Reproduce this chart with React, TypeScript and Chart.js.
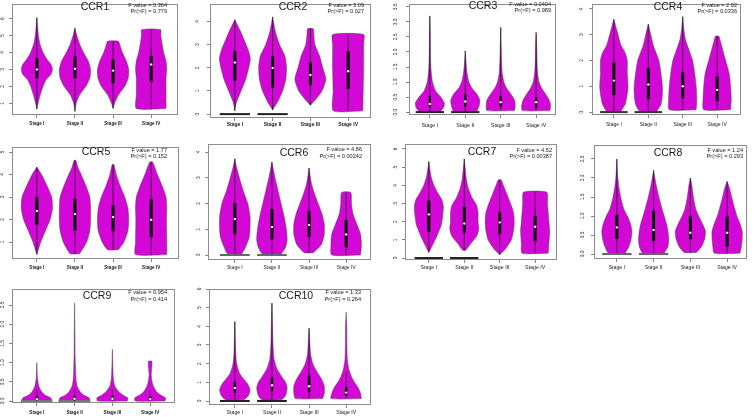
import React, { useEffect, useRef } from "react";
import { Chart, registerables } from "chart.js";
Chart.register(...registerables);

// ---------- DATA ----------
const STAGES = ["Stage I", "Stage II", "Stage III", "Stage IV"];

// Violin profiles: [expression value, relative half-width]
const CCR1_STATS = ["F value = 0.364", "Pr(>F) = 0.779"];
const CCR1_YTICKS = [1, 2, 3, 4, 5, 6];
const CCR1_Q1 = [2.49, 2.49, 2.18, 2.28];
const CCR1_MED = [3.0, 3.04, 2.93, 3.29];
const CCR1_Q3 = [3.67, 3.77, 3.58, 3.8];
const CCR1_LO = [0.66, 0.52, 0.69, 0.69];
const CCR1_HI = [6.06, 5.43, 4.66, 5.35];
const CCR1_ZERO = [0, 0, 0, 0];
const CCR1_VIOLIN = [
  [[0.66, 0], [1.0, 0.08], [1.5, 0.22], [2.0, 0.4], [2.4, 0.6], [2.7, 0.9], [3.0, 1.0], [3.3, 0.9], [3.6, 0.65], [4.0, 0.4], [4.5, 0.2], [5.0, 0.1], [5.5, 0.05], [6.06, 0]],
  [[0.52, 0], [1.0, 0.08], [1.5, 0.3], [2.0, 0.7], [2.5, 0.95], [3.0, 1.0], [3.5, 0.85], [4.0, 0.55], [4.5, 0.3], [5.0, 0.12], [5.43, 0]],
  [[0.69, 0], [1.0, 0.1], [1.5, 0.35], [2.0, 0.75], [2.5, 0.97], [3.0, 1.0], [3.5, 0.85], [4.0, 0.6], [4.4, 0.45], [4.66, 0.35]],
  [[0.69, 0.95], [1.5, 0.95], [2.5, 0.95], [3.0, 1.0], [3.5, 0.95], [4.0, 0.8], [4.5, 0.7], [5.0, 0.62], [5.35, 0.6]],
];

const CCR2_STATS = ["F value = 3.09", "Pr(>F) = 0.027"];
const CCR2_YTICKS = [0, 1, 2, 3, 4];
const CCR2_Q1 = [1.44, 1.13, 1.25, 1.09];
const CCR2_MED = [2.23, 1.99, 1.69, 1.85];
const CCR2_Q3 = [2.72, 2.51, 2.23, 2.72];
const CCR2_LO = [0.14, 0.18, 0.38, 0.14];
const CCR2_HI = [4.08, 4.2, 3.69, 3.44];
const CCR2_ZERO = [1, 1, 0, 0];
const CCR2_VIOLIN = [
  [[0.14, 0], [0.5, 0.1], [1.0, 0.4], [1.5, 0.7], [2.0, 0.9], [2.4, 1.0], [2.8, 0.85], [3.2, 0.6], [3.6, 0.35], [4.08, 0]],
  [[0.18, 0], [0.5, 0.3], [1.0, 0.65], [1.5, 0.85], [2.0, 0.9], [2.5, 0.8], [3.0, 0.45], [3.5, 0.2], [3.9, 0.08], [4.2, 0]],
  [[0.38, 0], [0.6, 0.3], [1.0, 0.75], [1.5, 1.0], [2.0, 0.8], [2.5, 0.6], [3.0, 0.3], [3.4, 0.22], [3.69, 0.18]],
  [[0.14, 0.95], [1.0, 0.97], [2.0, 1.0], [3.0, 1.0], [3.44, 1.0]],
];

const CCR3_STATS = ["F value = 0.0404", "Pr(>F) = 0.989"];
const CCR3_YTICKS = [0, 0.5, 1, 1.5, 2, 2.5, 3, 3.5];
const CCR3_Q1 = [0.16, 0.18, 0.18, 0.14];
const CCR3_MED = [0.27, 0.35, 0.33, 0.33];
const CCR3_Q3 = [0.54, 0.6, 0.54, 0.49];
const CCR3_LO = [0.03, 0.03, 0.05, 0.05];
const CCR3_HI = [3.2, 2.03, 2.82, 2.65];
const CCR3_ZERO = [1, 1, 0, 0];
const CCR3_VIOLIN = [
  [[0.03, 0.75], [0.15, 0.95], [0.3, 1.0], [0.5, 0.75], [0.7, 0.4], [1.0, 0.18], [1.3, 0.1], [1.6, 0.06], [2.0, 0.04], [2.6, 0.03], [3.2, 0]],
  [[0.03, 0.8], [0.2, 0.95], [0.4, 1.0], [0.6, 0.8], [0.8, 0.45], [1.0, 0.25], [1.3, 0.12], [1.6, 0.06], [2.03, 0]],
  [[0.05, 0.95], [0.2, 1.0], [0.4, 0.95], [0.6, 0.7], [0.8, 0.4], [1.0, 0.22], [1.3, 0.1], [1.8, 0.05], [2.2, 0.03], [2.82, 0]],
  [[0.05, 0.95], [0.2, 1.0], [0.4, 0.9], [0.6, 0.65], [0.8, 0.38], [1.0, 0.2], [1.3, 0.1], [1.7, 0.06], [2.2, 0.04], [2.65, 0]],
];

const CCR4_STATS = ["F value = 2.92", "Pr(>F) = 0.0336"];
const CCR4_YTICKS = [0, 1, 2, 3, 4];
const CCR4_Q1 = [0.66, 0.5, 0.54, 0.42];
const CCR4_MED = [1.22, 1.07, 1.0, 0.86];
const CCR4_Q3 = [1.92, 1.7, 1.54, 1.38];
const CCR4_LO = [0.03, 0.03, 0.09, 0.09];
const CCR4_HI = [3.6, 3.41, 3.7, 2.94];
const CCR4_ZERO = [1, 1, 0, 0];
const CCR4_VIOLIN = [
  [[0.03, 0.5], [0.3, 0.8], [0.7, 0.95], [1.0, 1.0], [1.5, 0.95], [2.0, 0.95], [2.3, 0.8], [2.6, 0.5], [3.0, 0.3], [3.3, 0.15], [3.6, 0]],
  [[0.03, 0.6], [0.3, 0.9], [0.7, 1.0], [1.0, 1.0], [1.5, 0.9], [2.0, 0.75], [2.3, 0.55], [2.6, 0.35], [3.0, 0.18], [3.41, 0]],
  [[0.09, 0.95], [0.5, 1.0], [1.0, 0.95], [1.5, 0.85], [2.0, 0.7], [2.4, 0.45], [2.8, 0.2], [3.2, 0.08], [3.7, 0]],
  [[0.09, 0.95], [0.5, 1.0], [1.0, 0.95], [1.5, 0.85], [2.0, 0.6], [2.5, 0.35], [2.8, 0.2], [2.94, 0.12]],
];

const CCR5_STATS = ["F value = 1.77", "Pr(>F) = 0.152"];
const CCR5_YTICKS = [1, 2, 3, 4, 5];
const CCR5_Q1 = [1.77, 1.52, 1.47, 1.22];
const CCR5_MED = [2.38, 2.24, 2.11, 1.99];
const CCR5_Q3 = [3.0, 2.93, 2.63, 2.9];
const CCR5_LO = [0.44, 0.48, 0.66, 0.44];
const CCR5_HI = [4.33, 4.63, 4.44, 4.55];
const CCR5_ZERO = [0, 0, 0, 0];
const CCR5_VIOLIN = [
  [[0.44, 0], [1.0, 0.25], [1.5, 0.55], [2.0, 0.85], [2.5, 1.0], [3.0, 0.95], [3.5, 0.65], [4.0, 0.3], [4.33, 0]],
  [[0.48, 0.3], [1.0, 0.75], [1.5, 0.95], [2.0, 1.0], [2.5, 1.0], [3.0, 0.95], [3.5, 0.7], [4.0, 0.4], [4.3, 0.2], [4.63, 0.05]],
  [[0.66, 0.35], [1.0, 0.7], [1.5, 0.95], [2.0, 1.0], [2.5, 0.95], [3.0, 0.75], [3.5, 0.45], [4.0, 0.2], [4.44, 0.05]],
  [[0.44, 1.0], [1.0, 1.0], [2.0, 0.98], [2.5, 1.0], [3.0, 0.95], [3.5, 0.7], [4.0, 0.4], [4.55, 0.1]],
];

const CCR6_STATS = ["F value = 4.86", "Pr(>F) = 0.00242"];
const CCR6_YTICKS = [0, 1, 2, 3, 4];
const CCR6_Q1 = [0.81, 0.61, 0.71, 0.3];
const CCR6_MED = [1.4, 1.09, 1.17, 0.8];
const CCR6_Q3 = [2.01, 1.79, 1.71, 1.36];
const CCR6_LO = [0.03, 0.03, 0.09, 0.0];
const CCR6_HI = [3.74, 3.61, 3.38, 2.43];
const CCR6_ZERO = [1, 1, 0, 0];
const CCR6_VIOLIN = [
  [[0.03, 0.45], [0.3, 0.7], [0.7, 0.95], [1.0, 1.0], [1.5, 1.0], [2.0, 0.85], [2.5, 0.55], [3.0, 0.3], [3.4, 0.12], [3.74, 0]],
  [[0.03, 0.6], [0.3, 0.9], [0.6, 1.0], [1.0, 0.95], [1.5, 0.8], [2.0, 0.6], [2.5, 0.4], [3.0, 0.2], [3.3, 0.1], [3.61, 0]],
  [[0.09, 0.3], [0.4, 0.8], [0.8, 1.0], [1.2, 1.0], [1.6, 0.85], [2.0, 0.6], [2.4, 0.35], [2.8, 0.15], [3.38, 0]],
  [[0.0, 0.95], [0.4, 1.0], [0.8, 0.95], [1.2, 0.7], [1.6, 0.45], [2.0, 0.35], [2.43, 0.3]],
];

const CCR7_STATS = ["F value = 4.52", "Pr(>F) = 0.00387"];
const CCR7_YTICKS = [0, 1, 2, 3, 4, 5, 6];
const CCR7_Q1 = [1.44, 1.4, 1.31, 0.92];
const CCR7_MED = [2.4, 1.9, 1.96, 1.72];
const CCR7_Q3 = [3.16, 2.82, 2.51, 2.32];
const CCR7_LO = [0.3, 0.42, 0.18, 0.26];
const CCR7_HI = [5.31, 5.46, 4.3, 3.62];
const CCR7_ZERO = [1, 1, 0, 0];
const CCR7_VIOLIN = [
  [[0.3, 0], [0.7, 0.25], [1.2, 0.55], [1.8, 0.85], [2.3, 0.95], [2.8, 1.0], [3.2, 0.9], [3.6, 0.6], [4.0, 0.35], [4.5, 0.15], [5.31, 0]],
  [[0.42, 0.1], [0.8, 0.45], [1.2, 0.85], [1.6, 1.0], [2.0, 0.95], [2.5, 0.95], [2.9, 0.85], [3.3, 0.55], [3.8, 0.3], [4.3, 0.15], [5.46, 0]],
  [[0.18, 0], [0.5, 0.4], [1.0, 0.8], [1.5, 0.95], [2.0, 1.0], [2.5, 0.95], [3.0, 0.75], [3.5, 0.5], [4.0, 0.25], [4.3, 0.1]],
  [[0.26, 0.9], [0.8, 0.95], [1.5, 1.0], [2.0, 0.95], [2.5, 0.9], [3.0, 0.85], [3.62, 0.8]],
];

const CCR8_STATS = ["F value = 1.24", "Pr(>F) = 0.293"];
const CCR8_YTICKS = [0, 0.5, 1, 1.5, 2, 2.5];
const CCR8_Q1 = [0.4, 0.34, 0.39, 0.19];
const CCR8_MED = [0.7, 0.63, 0.56, 0.56];
const CCR8_Q3 = [1.03, 1.14, 0.99, 0.99];
const CCR8_LO = [0.02, 0.02, 0.04, 0.02];
const CCR8_HI = [2.5, 2.2, 2.0, 1.91];
const CCR8_ZERO = [1, 1, 0, 0];
const CCR8_VIOLIN = [
  [[0.02, 0.55], [0.2, 0.8], [0.4, 0.95], [0.6, 1.0], [0.8, 0.9], [1.0, 0.7], [1.2, 0.45], [1.5, 0.25], [1.8, 0.12], [2.1, 0.05], [2.5, 0]],
  [[0.02, 0.7], [0.2, 0.95], [0.4, 1.0], [0.6, 0.95], [0.8, 0.85], [1.0, 0.7], [1.2, 0.55], [1.5, 0.35], [1.8, 0.18], [2.2, 0]],
  [[0.04, 0.4], [0.2, 0.75], [0.4, 0.95], [0.6, 1.0], [0.8, 0.8], [1.0, 0.55], [1.2, 0.35], [1.5, 0.2], [1.8, 0.1], [2.0, 0]],
  [[0.02, 0.85], [0.2, 0.95], [0.4, 1.0], [0.6, 1.0], [0.8, 0.85], [1.0, 0.65], [1.2, 0.5], [1.5, 0.3], [1.75, 0.15], [1.91, 0]],
];

const CCR9_STATS = ["F value = 0.954", "Pr(>F) = 0.414"];
const CCR9_YTICKS = [0, 0.5, 1, 1.5, 2, 2.5];
const CCR9_Q1 = [0.02, 0.02, 0.03, 0.03];
const CCR9_MED = [0.05, 0.06, 0.06, 0.05];
const CCR9_Q3 = [0.12, 0.12, 0.14, 0.12];
const CCR9_LO = [0, 0, 0, 0];
const CCR9_HI = [0.3, 0.3, 0.32, 0.28];
const CCR9_ZERO = [1, 1, 0, 0];
const CCR9_VIOLIN = [
  [[-0.03, 1.0], [0.08, 0.9], [0.15, 0.55], [0.25, 0.3], [0.4, 0.12], [0.6, 0.04], [1.0, 0]],
  [[-0.03, 1.0], [0.08, 0.95], [0.15, 0.6], [0.25, 0.35], [0.4, 0.15], [0.6, 0.08], [0.9, 0.05], [1.2, 0.03], [1.8, 0.02], [2.55, 0]],
  [[0.0, 0.95], [0.08, 1.0], [0.15, 0.7], [0.25, 0.4], [0.4, 0.15], [0.6, 0.06], [0.9, 0.03], [1.35, 0]],
  [[0.0, 0.95], [0.08, 1.0], [0.15, 0.7], [0.25, 0.4], [0.4, 0.2], [0.55, 0.1], [0.7, 0.07], [0.85, 0.1], [1.0, 0.12], [1.04, 0.1]],
];

const CCR10_STATS = ["F value = 1.33", "Pr(>F) = 0.264"];
const CCR10_YTICKS = [0, 1, 2, 3, 4, 5, 6];
const CCR10_Q1 = [0.45, 0.52, 0.48, 0.3];
const CCR10_MED = [0.7, 0.84, 0.79, 0.45];
const CCR10_Q3 = [1.02, 1.29, 1.35, 0.75];
const CCR10_LO = [0.07, 0.07, 0.13, 0.13];
const CCR10_HI = [4.25, 5.24, 3.9, 1.56];
const CCR10_ZERO = [1, 1, 0, 0];
const CCR10_VIOLIN = [
  [[0.07, 0.6], [0.3, 0.9], [0.6, 1.0], [0.9, 0.85], [1.2, 0.55], [1.5, 0.3], [2.0, 0.12], [2.5, 0.06], [3.0, 0.04], [4.25, 0]],
  [[0.07, 0.65], [0.3, 0.9], [0.7, 1.0], [1.0, 0.9], [1.3, 0.65], [1.7, 0.35], [2.2, 0.15], [3.0, 0.07], [4.0, 0.04], [5.24, 0]],
  [[0.13, 0.9], [0.4, 1.0], [0.8, 1.0], [1.2, 0.8], [1.6, 0.5], [2.0, 0.25], [2.5, 0.1], [3.0, 0.06], [3.9, 0]],
  [[0.13, 1.0], [0.4, 0.95], [0.7, 0.8], [1.0, 0.55], [1.3, 0.35], [1.7, 0.18], [2.2, 0.08], [3.0, 0.05], [4.0, 0.04], [4.76, 0]],
];

const GENES = [
  { name: "CCR1", stats: CCR1_STATS, yticks: CCR1_YTICKS, q1: CCR1_Q1, med: CCR1_MED, q3: CCR1_Q3, lo: CCR1_LO, hi: CCR1_HI, zero: CCR1_ZERO, violin: CCR1_VIOLIN },
  { name: "CCR2", stats: CCR2_STATS, yticks: CCR2_YTICKS, q1: CCR2_Q1, med: CCR2_MED, q3: CCR2_Q3, lo: CCR2_LO, hi: CCR2_HI, zero: CCR2_ZERO, violin: CCR2_VIOLIN },
  { name: "CCR3", stats: CCR3_STATS, yticks: CCR3_YTICKS, q1: CCR3_Q1, med: CCR3_MED, q3: CCR3_Q3, lo: CCR3_LO, hi: CCR3_HI, zero: CCR3_ZERO, violin: CCR3_VIOLIN },
  { name: "CCR4", stats: CCR4_STATS, yticks: CCR4_YTICKS, q1: CCR4_Q1, med: CCR4_MED, q3: CCR4_Q3, lo: CCR4_LO, hi: CCR4_HI, zero: CCR4_ZERO, violin: CCR4_VIOLIN },
  { name: "CCR5", stats: CCR5_STATS, yticks: CCR5_YTICKS, q1: CCR5_Q1, med: CCR5_MED, q3: CCR5_Q3, lo: CCR5_LO, hi: CCR5_HI, zero: CCR5_ZERO, violin: CCR5_VIOLIN },
  { name: "CCR6", stats: CCR6_STATS, yticks: CCR6_YTICKS, q1: CCR6_Q1, med: CCR6_MED, q3: CCR6_Q3, lo: CCR6_LO, hi: CCR6_HI, zero: CCR6_ZERO, violin: CCR6_VIOLIN },
  { name: "CCR7", stats: CCR7_STATS, yticks: CCR7_YTICKS, q1: CCR7_Q1, med: CCR7_MED, q3: CCR7_Q3, lo: CCR7_LO, hi: CCR7_HI, zero: CCR7_ZERO, violin: CCR7_VIOLIN },
  { name: "CCR8", stats: CCR8_STATS, yticks: CCR8_YTICKS, q1: CCR8_Q1, med: CCR8_MED, q3: CCR8_Q3, lo: CCR8_LO, hi: CCR8_HI, zero: CCR8_ZERO, violin: CCR8_VIOLIN },
  { name: "CCR9", stats: CCR9_STATS, yticks: CCR9_YTICKS, q1: CCR9_Q1, med: CCR9_MED, q3: CCR9_Q3, lo: CCR9_LO, hi: CCR9_HI, zero: CCR9_ZERO, violin: CCR9_VIOLIN },
  { name: "CCR10", stats: CCR10_STATS, yticks: CCR10_YTICKS, q1: CCR10_Q1, med: CCR10_MED, q3: CCR10_Q3, lo: CCR10_LO, hi: CCR10_HI, zero: CCR10_ZERO, violin: CCR10_VIOLIN },
];

// ---------- LAYOUT (page pixels) ----------
const LAYOUT = [
  { L: 12, R: 179, T: 1, B: 115, c1: 37, c4: 152, ta: [1, 103], tb: [6, 16], labelY: 124, xfs: 4.6, bold: true, yOff: 9, tx: 95, ty: 7, sR: 167, sy: [5, 11], boxW: 3, dec: 0, zc: "#222" },
  { L: 210, R: 372, T: 1, B: 118, c1: 235, c4: 349, ta: [0, 114], tb: [4, 19], labelY: 124, xfs: 5.0, bold: true, yOff: 12, tx: 293, ty: 7, sR: 364, sy: [5, 11], boxW: 3, dec: 0, zc: "#222" },
  { L: 409, R: 557, T: 1, B: 115, c1: 430, c4: 537, ta: [0, 112], tb: [3.5, 4], labelY: 125, xfs: 5.3, bold: false, yOff: 13, tx: 483, ty: 6, sR: 551, sy: [4, 10], boxW: 2.2, dec: 1, zc: "#222" },
  { L: 592, R: 742, T: 1, B: 115, c1: 614, c4: 718, ta: [0, 112], tb: [4, 6], labelY: 124, xfs: 5.0, bold: false, yOff: 10, tx: 668, ty: 7, sR: 737, sy: [5, 11], boxW: 3, dec: 0, zc: "#333" },
  { L: 12, R: 180, T: 147, B: 259, c1: 37, c4: 152, ta: [1, 242], tb: [5, 152], labelY: 268, xfs: 4.6, bold: true, yOff: 9, tx: 96, ty: 152, sR: 167, sy: [150, 156], boxW: 3, dec: 0, zc: "#222" },
  { L: 208, R: 372, T: 144, B: 260, c1: 235, c4: 347, ta: [0, 255], tb: [4, 152], labelY: 267, xfs: 4.9, bold: false, yOff: 9, tx: 294, ty: 153, sR: 362, sy: [149, 156], boxW: 3, dec: 0, zc: "#666" },
  { L: 405, R: 558, T: 144, B: 260, c1: 429, c4: 536, ta: [0, 258], tb: [6, 149], labelY: 267, xfs: 5.3, bold: false, yOff: 9, tx: 482, ty: 152, sR: 552, sy: [150, 156], boxW: 3, dec: 0, zc: "#222" },
  { L: 594, R: 748, T: 145, B: 259, c1: 617, c4: 728, ta: [0, 254], tb: [2.5, 159], labelY: 267, xfs: 5.2, bold: false, yOff: 11, tx: 668, ty: 153, sR: 743, sy: [150, 156], boxW: 3, dec: 1, zc: "#666" },
  { L: 12, R: 176, T: 289, B: 403, c1: 37, c4: 151, ta: [0, 401], tb: [2.5, 305], labelY: 413, xfs: 4.6, bold: true, yOff: 9, tx: 97, ty: 296, sR: 167, sy: [292, 299], boxW: 2.5, dec: 1, zc: "#777" },
  { L: 209, R: 372, T: 289, B: 405, c1: 235, c4: 347, ta: [0, 401], tb: [6, 289], labelY: 412, xfs: 5.2, bold: false, yOff: 9, tx: 296, ty: 296, sR: 361, sy: [292, 299], boxW: 2.5, dec: 0, zc: "#222" },
];

const FAMILY = '"Liberation Sans", Arial, sans-serif';
const FILL = "rgb(212, 8, 214)";
const EDGE = "rgba(70, 70, 70, 0.85)";
const HALF = 0.41;

function measureWidest(labels: string[], font: string) {
  const c = document.createElement("canvas").getContext("2d")!;
  c.font = font;
  return Math.max(...labels.map((l) => c.measureText(l).width));
}

// Chart.js draws datasets with a lower `order` on top.
function buildDatasets(g: any, lay: any) {
  const ds: any[] = [];
  for (let i = 0; i < 4; i++) {
    const c = i + 1;
    const prof = g.violin[i] as number[][];
    const right = prof.map(([v, w]) => ({ x: c + w * HALF, y: v }));
    const left = [...prof].reverse().map(([v, w]) => ({ x: c - w * HALF, y: v }));
    ds.push({
      order: 5,
      data: [...right, ...left, right[0]],
      fill: "shape",
      backgroundColor: FILL,
      borderColor: EDGE,
      borderWidth: 0.6,
      pointRadius: 0,
      tension: 0.2,
    });
    if (g.zero[i]) {
      ds.push({
        order: 4,
        data: [{ x: c - 0.4, y: 0 }, { x: c + 0.4, y: 0 }],
        borderColor: lay.zc,
        borderWidth: 2,
        pointRadius: 0,
        fill: false,
      });
    }
    ds.push({
      order: 3,
      data: [{ x: c, y: g.lo[i] }, { x: c, y: g.hi[i] }],
      borderColor: "#111",
      borderWidth: 0.7,
      pointRadius: 0,
      fill: false,
    });
    ds.push({
      order: 2,
      data: [{ x: c, y: g.q1[i] }, { x: c, y: g.q3[i] }],
      borderColor: "#000",
      borderWidth: lay.boxW,
      borderCapStyle: "butt",
      pointRadius: 0,
      fill: false,
    });
    ds.push({
      order: 1,
      data: [{ x: c, y: g.med[i] }],
      showLine: false,
      pointRadius: 1.2,
      pointBackgroundColor: "#fff",
      pointBorderWidth: 0,
      borderWidth: 0,
    });
  }
  return ds;
}

function Panel({ g, lay }: { g: any; lay: any }) {
  const ref = useRef<HTMLCanvasElement>(null);
  const cl = Math.max(0, lay.L - 16);
  const ct = lay.T <= 1 ? 0 : lay.T - 4;
  const cr = Math.min(753, lay.R + 3);
  const cb = Math.min(417, lay.labelY + 5);
  const W = cr - cl;
  const Hh = cb - ct;

  useEffect(() => {
    const ppu = (lay.ta[1] - lay.tb[1]) / (lay.tb[0] - lay.ta[0]);
    const yMin = lay.ta[0] - (lay.B - lay.ta[1]) / ppu;
    const yMax = lay.ta[0] + (lay.ta[1] - lay.T) / ppu;
    const ppx = (lay.c4 - lay.c1) / 3;
    const xMin = 1 - (lay.c1 - lay.L) / ppx;
    const xMax = 4 + (lay.R - lay.c4) / ppx;

    const yfs = 4.8;
    const yFontStr = `normal ${yfs}px ${FAMILY}`;
    const yLabels = g.yticks.map((v: number) => v.toFixed(lay.dec));
    const widest = measureWidest(yLabels, yFontStr);
    const tl = 3;
    const yPad = lay.yOff - tl - widest / 2;
    const xPad = lay.labelY - lay.B - tl - lay.xfs * 0.55;

    const decor = {
      id: "decor",
      afterDraw(chart: any) {
        const { ctx, chartArea: a } = chart;
        ctx.save();
        ctx.strokeStyle = "#8c8c8c";
        ctx.lineWidth = 1;
        ctx.strokeRect(Math.round(a.left) + 0.5, Math.round(a.top) + 0.5, Math.round(a.right - a.left) - 1, Math.round(a.bottom - a.top) - 1);
        ctx.fillStyle = "#1a1a1a";
        ctx.textAlign = "center";
        ctx.textBaseline = "middle";
        ctx.font = `normal 10.5px ${FAMILY}`;
        ctx.fillText(g.name, lay.tx - cl, lay.ty - ct);
        ctx.textAlign = "right";
        ctx.font = `normal 5.6px ${FAMILY}`;
        ctx.fillText(g.stats[0], lay.sR - cl, lay.sy[0] - ct);
        ctx.fillText(g.stats[1], lay.sR - cl, lay.sy[1] - ct);
        ctx.restore();
      },
    };

    const chart = new Chart(ref.current!, {
      type: "line",
      data: { datasets: buildDatasets(g, lay) },
      plugins: [decor],
      options: {
        animation: false,
        responsive: false,
        maintainAspectRatio: false,
        events: [],
        layout: { padding: { left: 0, right: cr - lay.R, top: lay.T - ct, bottom: 0 } },
        plugins: { legend: { display: false }, tooltip: { enabled: false } },
        scales: {
          x: {
            type: "linear",
            min: xMin,
            max: xMax,
            afterBuildTicks: (s: any) => {
              s.ticks = [1, 2, 3, 4].map((v) => ({ value: v }));
            },
            afterFit: (s: any) => {
              s.height = cb - lay.B;
              s.paddingLeft = 0;
              s.paddingRight = 0;
              s.paddingTop = 0;
              s.paddingBottom = 0;
            },
            border: { display: false },
            grid: { drawOnChartArea: false, tickLength: tl, color: "#666", lineWidth: 0.8 },
            ticks: {
              autoSkip: false,
              maxRotation: 0,
              minRotation: 0,
              padding: xPad,
              color: "#222",
              font: { family: FAMILY, size: lay.xfs, weight: lay.bold ? "bold" : "normal" },
              callback: (v: any) => STAGES[Number(v) - 1],
            },
          },
          y: {
            type: "linear",
            min: yMin,
            max: yMax,
            afterBuildTicks: (s: any) => {
              s.ticks = g.yticks.map((v: number) => ({ value: v }));
            },
            afterFit: (s: any) => {
              s.width = lay.L - cl;
              s.paddingLeft = 0;
              s.paddingRight = 0;
              s.paddingTop = 0;
              s.paddingBottom = 0;
            },
            border: { display: false },
            grid: { drawOnChartArea: false, tickLength: tl, color: "#666", lineWidth: 0.8 },
            ticks: {
              autoSkip: false,
              minRotation: 90,
              maxRotation: 90,
              crossAlign: "center",
              padding: yPad,
              color: "#333",
              font: { family: FAMILY, size: yfs },
              callback: (v: any) => Number(v).toFixed(lay.dec),
            },
          },
        },
      } as any,
    });
    return () => chart.destroy();
  }, []);

  return (
    <canvas
      ref={ref}
      width={W}
      height={Hh}
      style={{ position: "absolute", left: cl, top: ct, width: W, height: Hh }}
    />
  );
}

export default function App() {
  return (
    <div style={{ position: "absolute", left: 0, top: 0, width: 753, height: 417, background: "#fff", overflow: "hidden" }}>
      {GENES.map((g, i) => (
        <Panel key={g.name} g={g} lay={LAYOUT[i]} />
      ))}
    </div>
  );
}
